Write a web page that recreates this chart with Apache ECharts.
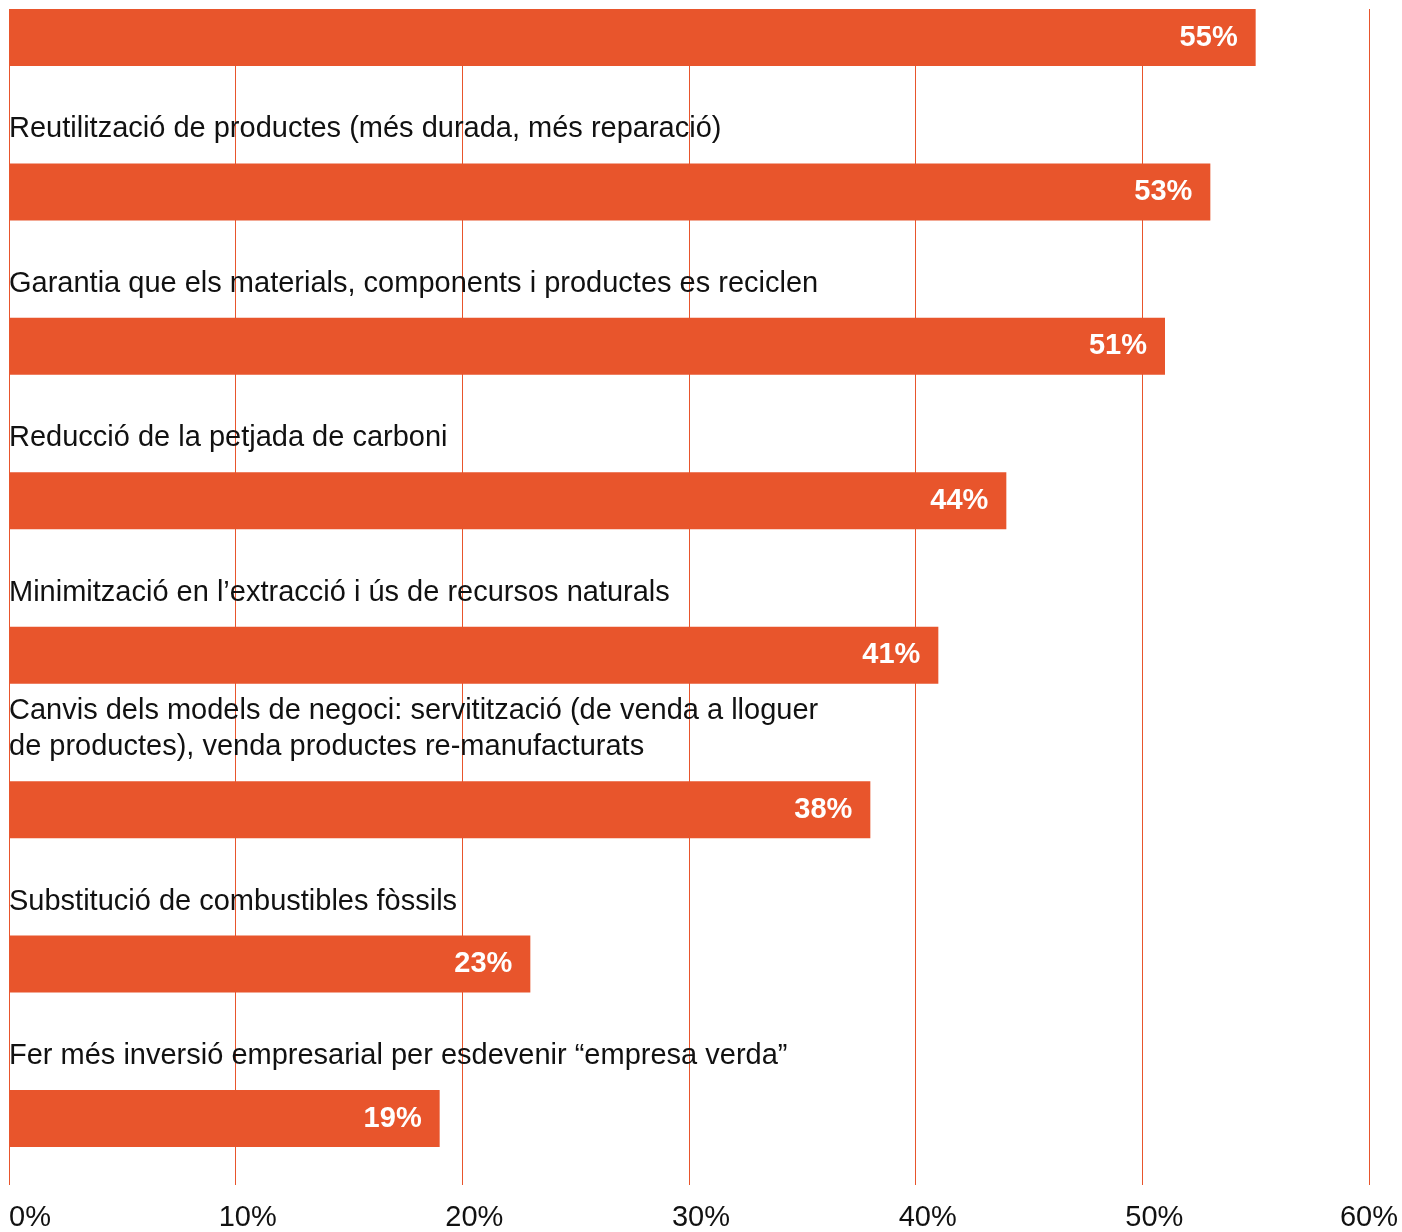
<!DOCTYPE html>
<html>
<head>
<meta charset="utf-8">
<script src="https://cdn.jsdelivr.net/npm/echarts@6/dist/echarts.min.js"></script>
<style>
html,body{margin:0;padding:0;background:#fff;}
#chart{width:1402px;height:1232px;}
</style>
</head>
<body>
<div id="chart"></div>
<script>
const categories = [
  '',
  'Reutilització de productes (més durada, més reparació)',
  'Garantia que els materials, components i productes es reciclen',
  'Reducció de la petjada de carboni',
  'Minimització en l’extracció i ús de recursos naturals',
  'Canvis dels models de negoci: servitització (de venda a lloguer\nde productes), venda productes re-manufacturats',
  'Substitució de combustibles fòssils',
  'Fer més inversió empresarial per esdevenir “empresa verda”'
];
const values = [55, 53, 51, 44, 41, 38, 23, 19];
const tickMin = 0, tickMax = 60, tickStep = 10;

const FONT = '"Liberation Sans", Arial, sans-serif';
const RED = '#E8552C';
const INK = '#111';

const chart = echarts.init(document.getElementById('chart'));
chart.setOption({
  animation: false,
  backgroundColor: '#fff',
  grid: [
    {left: 9, right: 33, top: 9, bottom: 44},
    {left: 9, right: 33, top: 37.5, bottom: 113.5}
  ],
  xAxis: [
    {
      gridIndex: 0, type: 'value', min: tickMin, max: tickMax, interval: tickStep,
      axisLine: {show: false}, axisTick: {show: false},
      splitLine: {show: true, lineStyle: {color: RED, width: 1}},
      axisLabel: {
        margin: 18, fontFamily: FONT, fontSize: 29, color: INK,
        alignMinLabel: 'left',
        formatter: v => (v === tickMin || v === tickMax) ? v + '%' : '{s|' + v + '%}',
        rich: {s: {fontFamily: FONT, fontSize: 29, color: INK, padding: [0, 0, 0, 24]}}
      }
    },
    {
      gridIndex: 1, type: 'value', min: tickMin, max: tickMax, interval: tickStep,
      show: false, splitLine: {show: false}
    }
  ],
  yAxis: [
    {gridIndex: 0, type: 'value', show: false, splitLine: {show: false}},
    {
      gridIndex: 1, type: 'category', data: categories, inverse: true, boundaryGap: false,
      show: false
    }
  ],
  series: [
    {
      type: 'bar', xAxisIndex: 1, yAxisIndex: 1, data: values, barWidth: 57,
      itemStyle: {color: RED}, z: 3,
      label: {
        show: true, position: 'insideRight', distance: 18,
        formatter: p => p.value + '%',
        color: '#fff', fontFamily: FONT, fontWeight: 'bold', fontSize: 29
      }
    },
    {
      type: 'bar', xAxisIndex: 1, yAxisIndex: 1, data: values, barWidth: 57, barGap: '-100%',
      itemStyle: {color: 'rgba(0,0,0,0)'}, silent: true, z: 4,
      label: {
        show: true, position: [0, -16], align: 'left', verticalAlign: 'bottom',
        formatter: p => p.name,
        color: INK, fontFamily: FONT, fontSize: 29, lineHeight: 36
      }
    }
  ]
});
</script>
</body>
</html>
